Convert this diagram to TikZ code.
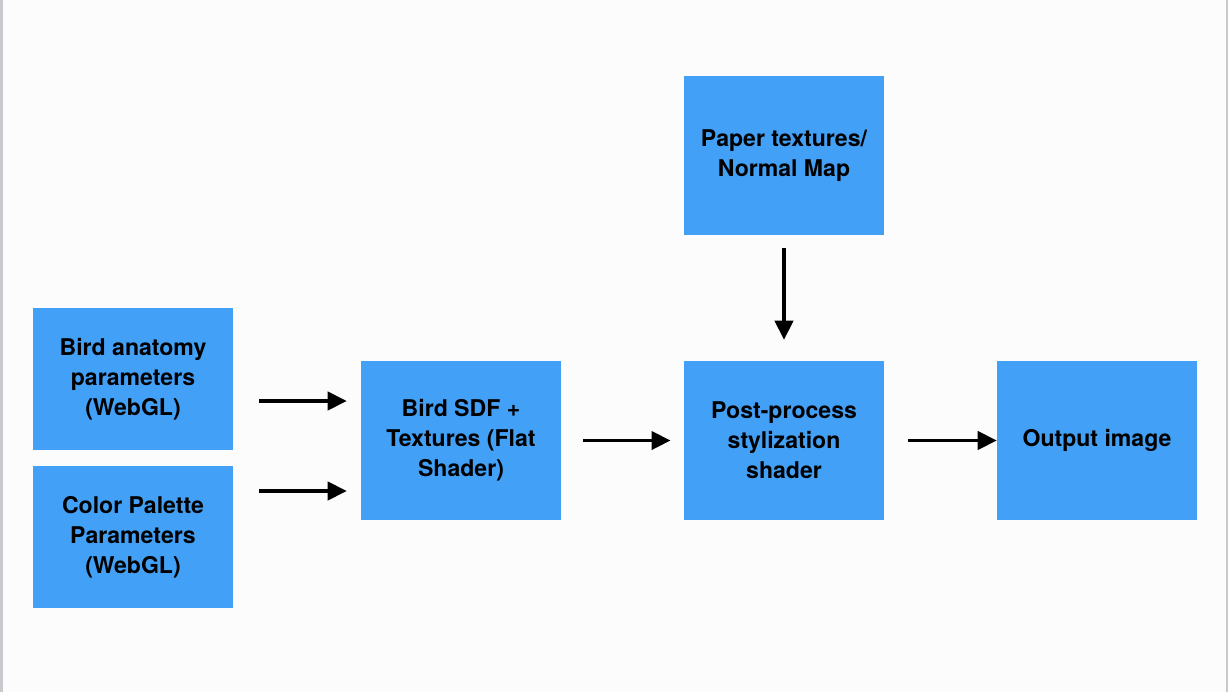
\documentclass[tikz,border=0pt]{standalone}
\usepackage{fontspec}
\setmainfont{TeX Gyre Heros}
\usetikzlibrary{arrows.meta}
\definecolor{boxblue}{HTML}{42A0F7}
\definecolor{edgegrey}{HTML}{C9C9CD}
\begin{document}
\begin{tikzpicture}[x=0.025cm,y=-0.025cm,
        blk/.style={fill=boxblue, minimum width=5cm, align=center, inner sep=0pt,
            font=\fontsize{16.4}{21.3}\selectfont\bfseries},
        flow/.style={-{Triangle[length=13.5pt,width=13pt]}, line width=2.4pt}]
        \useasboundingbox (0,0) rectangle (1228,692);
        \fill[white!99!black] (0,0) rectangle (1228,692);
        \fill[edgegrey] (0,0) rectangle (3,692);
        \fill[edgegrey] (1226,0) rectangle (1228,692);
        % Nodes
        \node[blk, minimum height=3.55cm] (anat) at (133,379) {Bird anatomy\\parameters\\(WebGL)};
        \node[blk, minimum height=3.55cm] (palette) at (133,537) {Color Palette\\Parameters\\(WebGL)};
        \node[blk, minimum height=3.975cm] (sdf) at (461,440.5) {Bird SDF +\\Textures (Flat\\Shader)};
        \node[blk, minimum height=3.975cm] (post) at (784,440.5) {Post-process\\stylization\\shader};
        \node[blk, minimum height=3.975cm] (paper) at (784,155.5) {Paper textures/\\Normal Map};
        \node[blk, minimum height=3.975cm] (out) at (1097,440.5) {Output image};
        % Arrows
        \draw[flow, shorten <=0.65cm, shorten >=0.35cm] ([yshift=-0.55cm]anat.east) -- ([yshift=-0.55cm]anat.east -| sdf.west);
        \draw[flow, shorten <=0.65cm, shorten >=0.35cm] ([yshift=1.15cm]palette.east) -- ([yshift=1.15cm]palette.east -| sdf.west);
        \draw[flow, shorten <=0.55cm, shorten >=0.33cm] (sdf) -- (post);
        \draw[flow, shorten <=0.6cm] (post) -- (out);
        \draw[flow, shorten <=0.325cm, shorten >=0.525cm] (paper) -- (post);
\end{tikzpicture}
\end{document}
